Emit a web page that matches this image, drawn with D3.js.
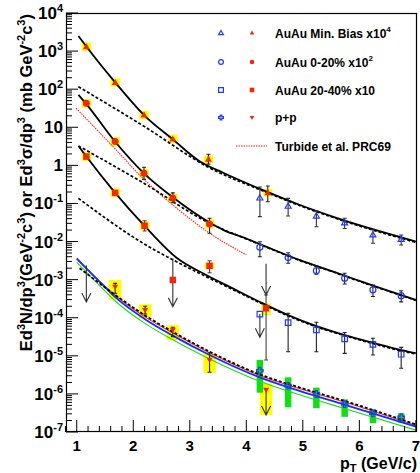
<!DOCTYPE html>
<html><head><meta charset="utf-8">
<script src="https://cdn.jsdelivr.net/npm/d3@7"></script>
<style>
body{margin:0;background:#fff}
svg{display:block}
text{font-family:"Liberation Sans",Arial,Helvetica,sans-serif;font-weight:bold;fill:#000}
</style>
</head><body>
<svg id="c" width="420" height="473"></svg>
<script>
// ---------------- DATA ----------------
const xTicks = [1, 2, 3, 4, 5, 6, 7];
const yTickExp = [-7, -6, -5, -4, -3, -2, -1, 0, 1, 2, 3, 4];
const legendLabels = ["AuAu Min. Bias x10", "AuAu 0-20% x10", "AuAu 20-40% x10", "p+p", "Turbide et al. PRC69"];
const legendSup = ["4", "2", "", "", ""];

// red (low pT) points
const mbRedX = [1.17, 1.68, 2.19, 2.70, 3.33, 4.38];
const mbRedY = [1300, 150, 21, 4.9, 1.45, 0.19];
const mbRedSysLo = [1000, 115, 16, 3.8, 1.15, 0.152];
const mbRedSysHi = [1700, 195, 27, 6.4, 1.8, 0.24];
const mbRedErrLo = [null, null, null, null, 1.08, 0.111];
const mbRedErrHi = [null, null, null, null, 1.95, 0.287];

const c020RedX = [1.17, 1.68, 2.19, 2.70, 3.35];
const c020RedY = [42.6, 4.2, 0.62, 0.14, 0.029];
const c020RedSysLo = [33, 3.2, 0.48, 0.108, 0.022];
const c020RedSysHi = [55, 5.5, 0.8, 0.18, 0.038];
const c020RedErrLo = [null, null, 0.43, 0.104, 0.0165];
const c020RedErrHi = [null, null, 0.89, 0.19, 0.041];

const c2040RedX = [1.17, 1.68, 2.20, 2.70, 3.35, 4.35];
const c2040RedY = [1.7, 0.19, 0.026, 9.8e-4, 0.0023, 1.77e-4];
const c2040RedSysLo = [1.3, 0.146, 0.02, null, 0.0019, 1.18e-4];
const c2040RedSysHi = [2.2, 0.25, 0.034, null, 0.0028, 2.4e-4];
const c2040RedErrLo = [null, null, 0.019, null, 1.52e-3, 7.8e-6];
const c2040RedErrHi = [null, null, 0.035, null, 3.14e-3, 3.95e-4];

const ppRedX = [1.68, 2.21, 2.70, 3.35, 4.35];
const ppRedY = [6.5e-4, 1.58e-4, 4.8e-5, 7.8e-6, 1.27e-6];
const ppRedSysLo = [3.0e-4, 9.7e-5, 2.6e-5, 3.6e-6, 2.8e-7];
const ppRedSysHi = [9.8e-4, 2.25e-4, 6.4e-5, 1.16e-5, 1.9e-6];
const ppRedErrLo = [4.4e-4, 1.25e-4, 3.2e-5, 3.7e-6, null];
const ppRedErrHi = [8.0e-4, 2.0e-4, 5.6e-5, 1.2e-5, null];

// blue (high pT) points
const highX = [4.24, 4.74, 5.24, 5.74, 6.24, 6.74];
const mbBlueY = [0.14, 0.085, 0.047, 0.031, 0.015, 0.0115];
const mbBlueLo = [0.045, 0.047, 0.0245, 0.022, 0.009, 0.0081];
const mbBlueHi = [0.27, 0.136, 0.063, 0.041, 0.021, 0.0149];

const c020BlueY = [7.1e-3, 3.8e-3, 1.72e-3, 1.08e-3, 5.4e-4, 3.8e-4];
const c020BlueLo = [4.0e-3, 2.7e-3, 1.38e-3, 7.7e-4, 3.6e-4, 2.6e-4];
const c020BlueHi = [9.9e-3, 5.1e-3, 2.3e-3, 1.47e-3, 7.2e-4, 5.1e-4];

const c2040BlueY = [1.25e-4, 7.4e-5, 4.8e-5, 2.8e-5, 2.0e-5, 1.1e-5];
const c2040BlueLo = [null, 1.28e-5, 1.28e-5, 1.16e-5, 1.05e-5, 4.7e-6];
const c2040BlueHi = [null, 1.31e-4, 7.6e-5, 4.1e-5, 2.9e-5, 1.67e-5];

const ppBlueY = [4.07e-6, 1.64e-6, 1.0e-6, 5.4e-7, 3.1e-7, 2.45e-7];
const ppBlueSysLo = [1.08e-6, 4.45e-7, 4.2e-7, 2.5e-7, 1.7e-7, 1.75e-7];
const ppBlueSysHi = [7.8e-6, 2.73e-6, 1.46e-6, 7.2e-7, 3.95e-7, 3.1e-7];

// upper-limit arrows
const ulX = [1.17, 2.70, 4.24, 4.35, 4.35];
const ulFrom = [2.4e-3, 3.6e-3, 1.25e-4, 2.6e-3, 1.27e-6];
const ulTo = [2.6e-4, 1.95e-4, 3.06e-5, 3.95e-4, 2.8e-7];

// curves
const mbFitX = [1.03, 1.17, 1.68, 2.19, 2.70, 3.18, 3.6, 4.36, 4.95, 5.54, 6.13, 7.0];
const mbFitY = [2500, 1320, 151, 20.9, 4.8, 1.26, 0.63, 0.204, 0.091, 0.0447, 0.0234, 0.01];
const mbHardX = [1.03, 2.2, 3.33, 4.36, 4.95, 5.54, 6.13, 7.0];
const mbHardY = [116, 10.4, 0.89, 0.195, 0.087, 0.0427, 0.0224, 0.0095];

const c020FitX = [1.03, 1.17, 1.68, 2.19, 2.70, 3.35, 3.6, 4.0, 4.36, 4.95, 5.54, 6.13, 7.0];
const c020FitY = [70.8, 40.7, 4.17, 0.617, 0.145, 0.0316, 0.02, 0.012, 0.00724, 0.00324, 0.00162, 7.94e-4, 2.92e-4];
const c020HardX = [1.03, 2.2, 3.35, 4.0, 4.36, 4.95, 5.54, 6.13, 7.0];
const c020HardY = [3.24, 0.331, 0.0302, 0.0117, 0.00708, 0.00316, 0.00158, 7.76e-4, 2.85e-4];

const c2040FitX = [1.03, 1.17, 1.68, 2.2, 2.76, 3.29, 3.75, 4.26, 4.74, 5.24, 5.74, 6.24, 6.74, 7.0];
const c2040FitY = [3.24, 1.70, 0.19, 0.0257, 0.0038, 0.00132, 6.0e-4, 2.51e-4, 1.17e-4, 6.0e-5, 3.5e-5, 2.19e-5, 1.41e-5, 1.17e-5];
const c2040HardX = [1.03, 2.08, 3.29, 3.75, 4.26, 4.74, 5.24, 5.74, 6.24, 6.74, 7.0];
const c2040HardY = [0.136, 0.011, 0.0012, 5.6e-4, 2.4e-4, 1.12e-4, 5.75e-5, 3.4e-5, 2.1e-5, 1.35e-5, 1.12e-5];

const turbideX = [0.99, 1.70, 2.20, 2.70, 3.35, 4.0];
const turbideY = [31.6, 2.51, 0.413, 0.0912, 0.0166, 0.00447];

const ppCurveX = [1.0, 1.4, 1.68, 2.2, 2.7, 3.35, 4.26, 4.94, 5.82, 7.0];
const ppBlueCurveY = [3.63e-3, 8.9e-4, 3.47e-4, 9.3e-5, 3.39e-5, 1.05e-5, 2.63e-6, 1.2e-6, 4.79e-7, 1.38e-7];
const ppGreenCurveY = [2.82e-3, 7.1e-4, 2.75e-4, 7.2e-5, 2.63e-5, 8.3e-6, 2.09e-6, 9.5e-7, 3.8e-7, 1.12e-7];
const ppRedCurveY = [3.39e-3, 9.3e-4, 3.89e-4, 1.07e-4, 3.98e-5, 1.2e-5, 2.95e-6, 1.38e-6, 5.6e-7, 1.48e-7];
const ppDashX = [1.05, 1.68, 2.20, 2.70, 3.35, 4.26, 4.94, 5.82, 7.0];
const ppDashY = [2.0e-3, 3.98e-4, 1.17e-4, 4.27e-5, 1.29e-5, 3.16e-6, 1.48e-6, 6.0e-7, 1.58e-7];

// ---------------- DRAWING ----------------
const RED = "#f02808", BLUE = "#1f3cf0", YEL = "#ffff00", GRN = "#10e010";
const L = 66, R = 417, T = 13, B = 432;
const svg = d3.select("#c");
const x = d3.scaleLinear().domain([0.81, 7.02]).range([L, R]);
const y = d3.scaleLog().domain([1e-7, 1e4]).range([B, T]);

const gBox = svg.append("g"), gCurve = svg.append("g"), gErr = svg.append("g"),
      gMark = svg.append("g"), gAxis = svg.append("g"), gLeg = svg.append("g");

function boxes(xs, lo, hi, w, color) {
  xs.forEach((v, i) => {
    if (lo[i] == null) return;
    gBox.append("rect").attr("x", x(v) - w / 2).attr("y", y(hi[i]))
      .attr("width", w).attr("height", y(lo[i]) - y(hi[i])).attr("fill", color);
  });
}
function curve(xs, ys, color, width, dash) {
  const line = d3.line().x(d => x(d[0])).y(d => y(d[1])).curve(d3.curveMonotoneX);
  gCurve.append("path").attr("d", line(xs.map((v, i) => [v, ys[i]])))
    .attr("fill", "none").attr("stroke", color).attr("stroke-width", width)
    .attr("stroke-dasharray", dash || null);
}
function errs(xs, lo, hi, color) {
  xs.forEach((v, i) => {
    if (lo[i] == null) return;
    const cx = x(v), y1 = y(hi[i]), y2 = y(lo[i]);
    const p = `M${cx},${y1}L${cx},${y2}M${cx - 2},${y1}L${cx + 2},${y1}M${cx - 2},${y2}L${cx + 2},${y2}`;
    gErr.append("path").attr("d", p).attr("stroke", color || "#222").attr("stroke-width", 1.1).attr("fill", "none");
  });
}
function arrows(xs, from, to) {
  xs.forEach((v, i) => {
    const cx = x(v), y1 = y(from[i]), y2 = y(to[i]);
    gErr.append("path").attr("d", `M${cx},${y1}L${cx},${y2}M${cx - 4.5},${y2 - 9}L${cx},${y2}L${cx + 4.5},${y2 - 9}`)
      .attr("stroke", "#333").attr("stroke-width", 1.1).attr("fill", "none");
  });
}
function markPath(type, cx, cy, s) {
  const h = s / 2;
  if (type === "tri") return `M${cx},${cy - h * 1.05}L${cx + h},${cy + h * 0.7}L${cx - h},${cy + h * 0.7}Z`;
  if (type === "triD") return `M${cx},${cy + h * 1.05}L${cx + h},${cy - h * 0.7}L${cx - h},${cy - h * 0.7}Z`;
  if (type === "sq") return `M${cx - h},${cy - h}h${s}v${s}h${-s}Z`;
  if (type === "cross") { const a = h, b = h / 3;
    return `M${cx - b},${cy - a}h${2 * b}v${a - b}h${a - b}v${2 * b}h${b - a}v${a - b}h${-2 * b}v${b - a}h${b - a}v${-2 * b}h${a - b}Z`; }
  return null;
}
function mark(g, type, cx, cy, s, filled, color) {
  let el;
  if (type === "circ") el = g.append("circle").attr("cx", cx).attr("cy", cy).attr("r", s / 2);
  else el = g.append("path").attr("d", markPath(type, cx, cy, s));
  if (filled) el.attr("fill", color).attr("stroke", "none");
  else el.attr("fill", "none").attr("stroke", color).attr("stroke-width", 1.2);
}
function marks(xs, ys, type, s, filled, color) {
  xs.forEach((v, i) => mark(gMark, type, x(v), y(ys[i]), s, filled, color));
}

// boxes
boxes(mbRedX, mbRedSysLo, mbRedSysHi, 9.5, YEL);
boxes(c020RedX, c020RedSysLo, c020RedSysHi, 9.5, YEL);
boxes(c2040RedX, c2040RedSysLo, c2040RedSysHi, 9.5, YEL);
boxes(ppRedX, ppRedSysLo, ppRedSysHi, 12.5, YEL);
boxes(highX, ppBlueSysLo, ppBlueSysHi, 6.5, GRN);

// curves
curve(ppCurveX, ppGreenCurveY, "#20d820", 1.1);
curve(ppCurveX, ppRedCurveY, "#ff3010", 1.1);
curve(ppCurveX, ppBlueCurveY, "#1030ff", 1.8);
curve(ppDashX, ppDashY, "#000", 1.8, "3,2");
curve(turbideX, turbideY, "#ff2010", 1.1, "1.5,1");
curve(mbHardX, mbHardY, "#000", 1.7, "3,2");
curve(c020HardX, c020HardY, "#000", 1.7, "3,2");
curve(c2040HardX, c2040HardY, "#000", 1.7, "3,2");
curve(mbFitX, mbFitY, "#000", 1.8);
curve(c020FitX, c020FitY, "#000", 1.8);
curve(c2040FitX, c2040FitY, "#000", 1.8);

// error bars & arrows
errs(mbRedX, mbRedErrLo, mbRedErrHi);
errs(c020RedX, c020RedErrLo, c020RedErrHi);
errs(c2040RedX, c2040RedErrLo, c2040RedErrHi, "#444");
errs(ppRedX, ppRedErrLo, ppRedErrHi);
errs(highX, mbBlueLo, mbBlueHi, "#333");
errs(highX, c020BlueLo, c020BlueHi);
errs(highX, c2040BlueLo, c2040BlueHi);
arrows(ulX, ulFrom, ulTo);

// markers
marks(mbRedX, mbRedY, "tri", 7, true, RED);
marks(c020RedX, c020RedY, "circ", 7, true, RED);
marks(c2040RedX, c2040RedY, "sq", 6.5, true, RED);
marks(ppRedX, ppRedY, "triD", 6, true, RED);
marks(highX, mbBlueY, "tri", 6, false, BLUE);
marks(highX, c020BlueY, "circ", 6, false, BLUE);
marks(highX, c2040BlueY, "sq", 5.5, false, BLUE);
marks(highX, ppBlueY, "cross", 6.5, false, BLUE);

// axes frame & ticks
gAxis.append("rect").attr("x", L + 0.5).attr("y", T + 0.5).attr("width", R - L - 1).attr("height", B - T - 1)
  .attr("fill", "none").attr("stroke", "#000").attr("stroke-width", 1.2);
let tp = "";
xTicks.forEach(v => { tp += `M${x(v)},${B}v-12`; });
d3.range(0.8, 7.01, 0.2).forEach(v => { if (Math.abs(v - Math.round(v)) > 0.01) tp += `M${x(v)},${B}v-6`; });
yTickExp.forEach(e => { tp += `M${L},${y(Math.pow(10, e))}h12`; });
yTickExp.slice(0, -1).forEach(e => { for (let m = 2; m <= 9; m++) tp += `M${L},${y(m * Math.pow(10, e))}h6`; });
gAxis.append("path").attr("d", tp).attr("stroke", "#000").attr("stroke-width", 1).attr("fill", "none");

xTicks.forEach(v => gAxis.append("text").attr("x", x(v)).attr("y", 451).attr("text-anchor", "middle")
  .attr("font-size", 15).text(v));
yTickExp.forEach(e => {
  const t = gAxis.append("text").attr("x", 63).attr("y", y(Math.pow(10, e)) + 6).attr("text-anchor", "end").attr("font-size", 17);
  if (e === 0) t.text("1");
  else if (e === 1) t.text("10");
  else { t.append("tspan").text("10"); t.append("tspan").attr("font-size", 11).attr("dy", -7).text(String(e)); }
});

// axis titles
const xt = gAxis.append("text").attr("x", 417).attr("y", 468.5).attr("text-anchor", "end").attr("font-size", 16);
xt.append("tspan").text("p");
xt.append("tspan").attr("font-size", 11).attr("dy", 3).text("T");
xt.append("tspan").attr("dy", -3).text(" (GeV/c)");

const yt = gAxis.append("text").attr("transform", "translate(32,14) rotate(-90)").attr("text-anchor", "end").attr("font-size", 16.5);
const ytParts = [["Ed", 0], ["3", 1], ["N/dp", 0], ["3", 1], ["(GeV", 0], ["-2", 1], ["c", 0], ["3", 1], [") or Ed", 0], ["3", 1],
  ["\u03c3/dp", 0], ["3", 1], [" (mb GeV", 0], ["-2", 1], ["c", 0], ["3", 1], [")", 0]];
let prevSup = 0;
ytParts.forEach(([s, sup]) => {
  const ts = yt.append("tspan").text(s);
  if (sup) ts.attr("font-size", 11).attr("dy", prevSup ? 0 : -7);
  else ts.attr("dy", prevSup ? 7 : 0);
  prevSup = sup;
});

// legend
const legY = [33, 62, 90, 117.5];
const legBlue = ["tri", "circ", "sq", "cross"];
const legRed = ["tri", "circ", "sq", "triD"];
legY.forEach((yy, i) => {
  mark(gLeg, legBlue[i], 221, yy, 4.8, false, BLUE);
  mark(gLeg, legRed[i], 252, yy, 4.6, true, RED);
});
legendLabels.forEach((s, i) => {
  const yy = i < 4 ? legY[i] : 146;
  const t = gLeg.append("text").attr("x", 275).attr("y", yy + 4.5).attr("font-size", 12).text(s);
  if (legendSup[i]) t.append("tspan").attr("font-size", 8).attr("dy", -6).text(legendSup[i]);
});
gLeg.append("line").attr("x1", 236).attr("x2", 267).attr("y1", 146).attr("y2", 146)
  .attr("stroke", "#ff2010").attr("stroke-width", 1.1).attr("stroke-dasharray", "1.5,1");
</script>
</body></html>
